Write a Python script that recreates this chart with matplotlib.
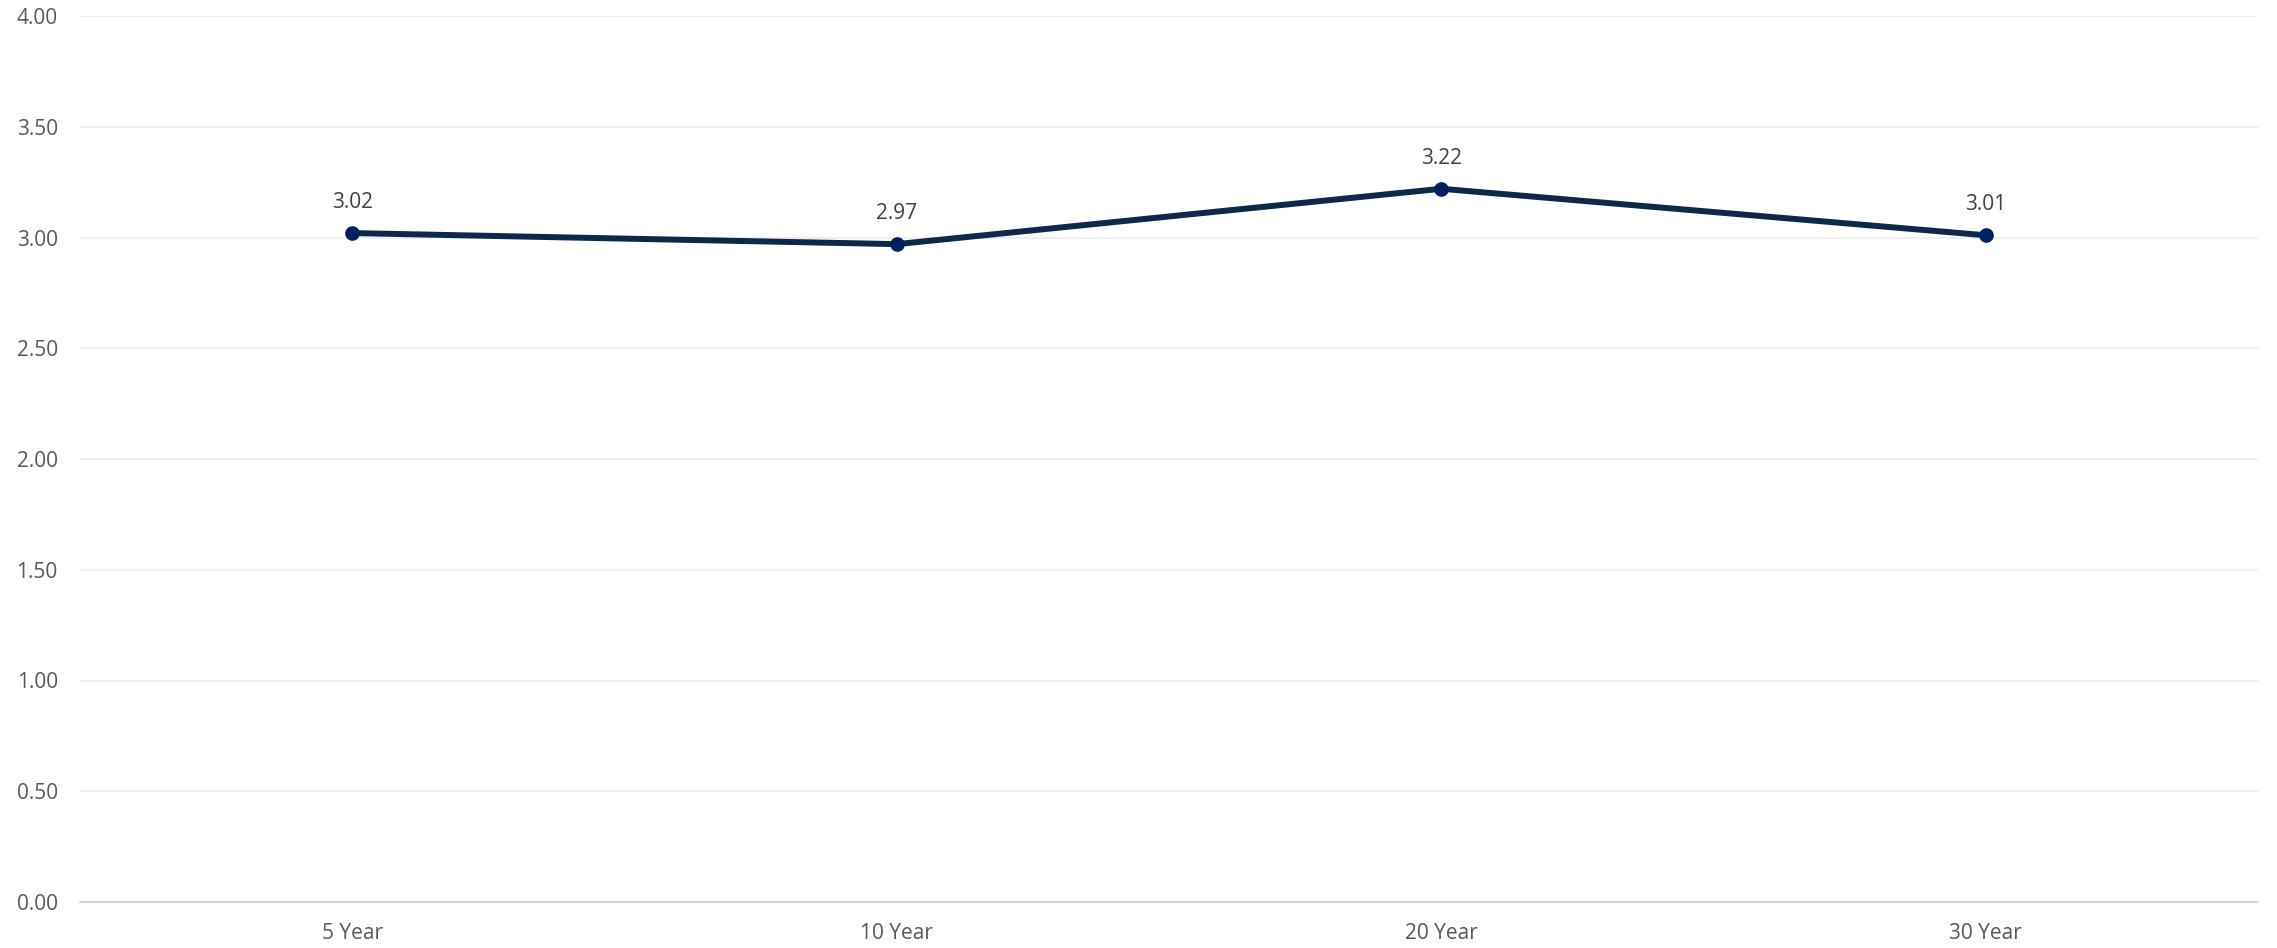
import matplotlib
matplotlib.use('Agg')
from matplotlib import pyplot as plt

categories = ['5 Year', '10 Year', '20 Year', '30 Year']
values = [3.02, 2.97, 3.22, 3.01]
y_ticks = [0.0, 0.5, 1.0, 1.5, 2.0, 2.5, 3.0, 3.5, 4.0]

plt.rcParams['font.family'] = ['Open Sans', 'DejaVu Sans']

fig = plt.figure(figsize=(22.77, 9.48), dpi=100)
ax = fig.add_axes([80/2277, 1 - 902/948, (2258-80)/2277, (902-16)/948])

x = list(range(len(categories)))
ax.plot(x, values, color='#0f2748', lw=4.3, solid_capstyle='round', zorder=3)
ax.plot(x, values, 'o', color='#002060', ms=9.5, zorder=4)

for xi, v in zip(x, values):
    ax.annotate(f'{v:.2f}', (xi, v), xytext=(0, 22), textcoords='offset points',
                ha='center', va='center', fontsize=15, color='#404040')

ax.set_xlim(-0.5, 3.5)
ax.set_ylim(0, 4)
ax.set_yticks(y_ticks)
ax.set_yticklabels([f'{t:.2f}' for t in y_ticks])
ax.set_xticks(x)
ax.set_xticklabels(categories)
ax.grid(axis='y', color='#eeeeee', lw=1.3, zorder=0)
ax.set_axisbelow(True)
for s in ['top', 'right', 'left']:
    ax.spines[s].set_visible(False)
ax.spines['bottom'].set_color('#d0d0d0')
ax.spines['bottom'].set_linewidth(1.3)
ax.tick_params(axis='both', length=0, labelsize=15, labelcolor='#595959')
ax.tick_params(axis='y', pad=16)
ax.tick_params(axis='x', pad=15)

fig.savefig('out.png', dpi=100)
